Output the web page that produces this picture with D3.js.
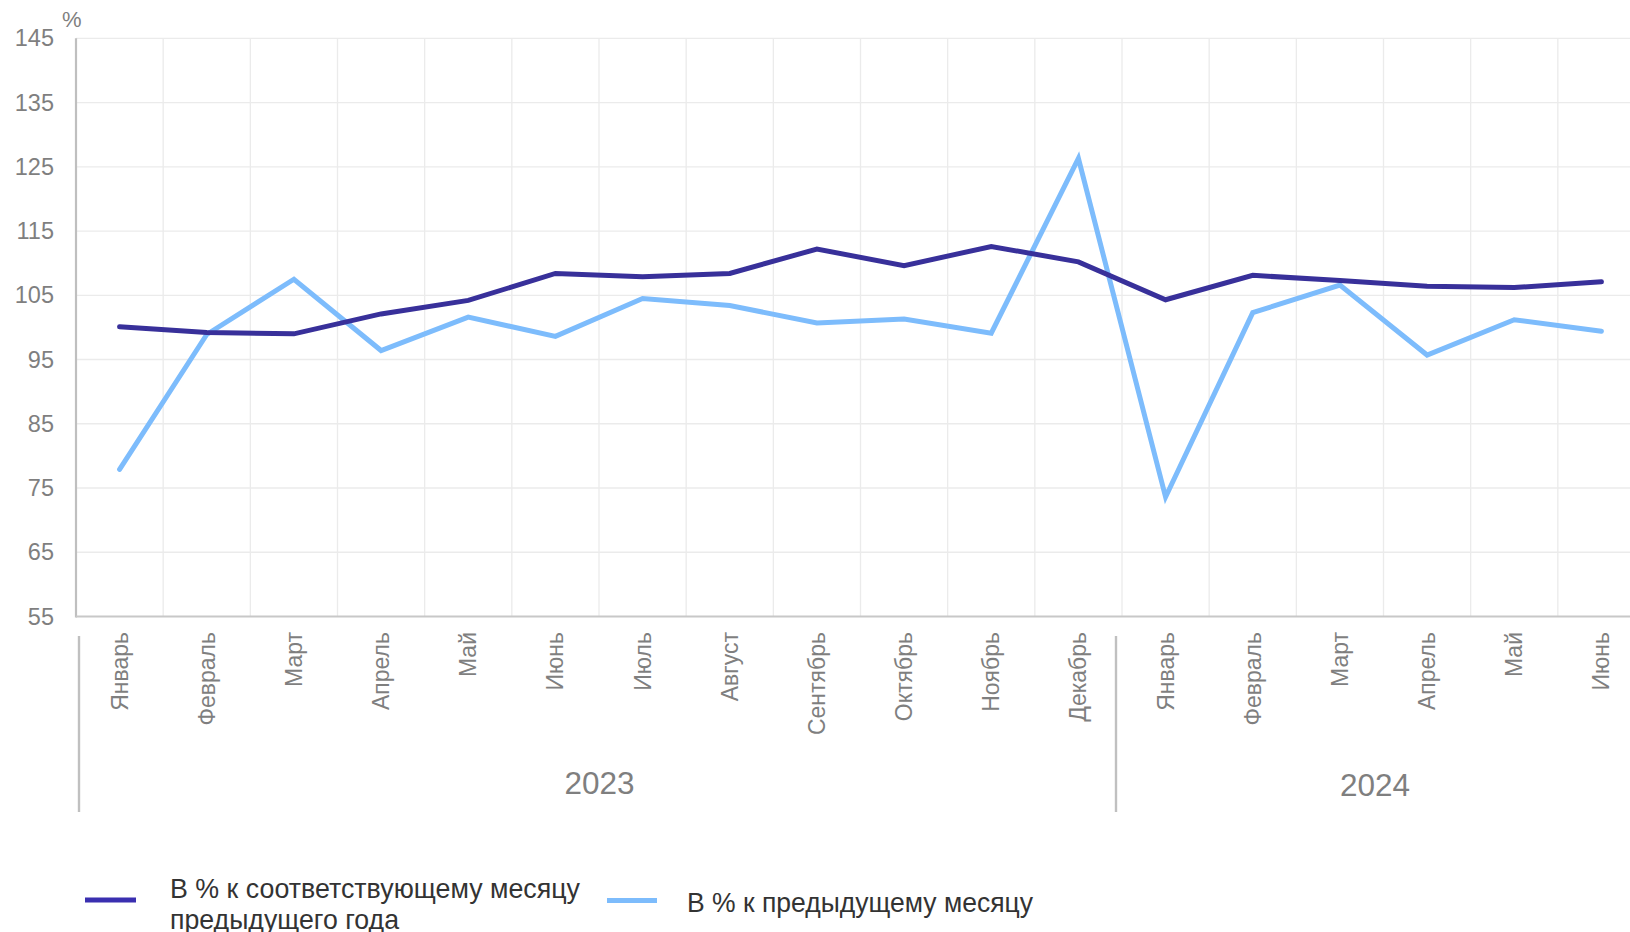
<!DOCTYPE html>
<html>
<head>
<meta charset="utf-8">
<script src="https://cdn.jsdelivr.net/npm/d3@7"></script>
<style>
  html, body { margin: 0; padding: 0; background: #fff; }
  svg { display: block; }
</style>
</head>
<body>
<svg id="chart" width="1630" height="932"></svg>
<script>
const months = ["Январь","Февраль","Март","Апрель","Май","Июнь","Июль","Август","Сентябрь","Октябрь","Ноябрь","Декабрь","Январь","Февраль","Март","Апрель","Май","Июнь"];
const years = ["2023", "2024"];
const yearMonthCounts = [12, 6];
const yoyValues = [100.1, 99.2, 99.0, 102.1, 104.2, 108.4, 107.9, 108.4, 112.2, 109.6, 112.6, 110.2, 104.3, 108.1, 107.3, 106.4, 106.2, 107.1];
const momValues = [77.9, 98.9, 107.5, 96.4, 101.6, 98.6, 104.5, 103.4, 100.7, 101.3, 99.1, 126.3, 73.6, 102.3, 106.6, 95.7, 101.2, 99.4];
const yTicks = [55, 65, 75, 85, 95, 105, 115, 125, 135, 145];
const seriesNames = ["В % к соответствующему месяцу\nпредыдущего года", "В % к предыдущему месяцу"];

(function () {
const W = 1630, H = 932;
const mLeft = 76, mRight = 1645, mTop = 38.3, mBottom = 616.5;
const darkColor = "#38309a", lightColor = "#7dbcfc";
const grayText = "#7f7f7f";
const font = "'Liberation Sans', Arial, sans-serif";

const svg = d3.select("#chart");
const idx = d3.range(months.length);
const x = d3.scaleBand().domain(idx).range([mLeft, mRight]).paddingInner(0).paddingOuter(0);
const y = d3.scaleLinear().domain([55, 145]).range([mBottom, mTop]);
const cx = i => x(i) + x.bandwidth() / 2;

// grid
const grid = svg.append("g");
grid.selectAll("line.h").data(yTicks.slice(1)).join("line")
  .attr("x1", mLeft).attr("x2", W).attr("y1", d => y(d)).attr("y2", d => y(d))
  .attr("stroke", "#ebebeb").attr("stroke-width", 1.3);
grid.selectAll("line.v").data(idx.slice(1)).join("line")
  .attr("x1", d => x(d)).attr("x2", d => x(d)).attr("y1", mTop).attr("y2", mBottom)
  .attr("stroke", "#ebebeb").attr("stroke-width", 1.3);

// y axis
const yAxis = svg.append("g").attr("transform", `translate(${mLeft},0)`)
  .call(d3.axisLeft(y).tickValues(yTicks).tickSize(0).tickPadding(22));
yAxis.select(".domain").remove();
yAxis.selectAll("text").attr("font-family", font).attr("font-size", 23.5).attr("fill", grayText);

svg.append("line").attr("x1", mLeft).attr("x2", mLeft).attr("y1", mTop).attr("y2", mBottom + 1)
  .attr("stroke", "#bfbfbf").attr("stroke-width", 2.2);
svg.append("line").attr("x1", mLeft).attr("x2", W).attr("y1", mBottom).attr("y2", mBottom)
  .attr("stroke", "#c8c8c8").attr("stroke-width", 2.2);

svg.append("text").attr("x", 62).attr("y", 27).text("%")
  .attr("font-family", font).attr("font-size", 22).attr("fill", grayText);

// x axis
const xAxis = svg.append("g").attr("transform", `translate(0,${mBottom})`)
  .call(d3.axisBottom(x).tickFormat(i => months[i]).tickSize(0).tickPadding(0));
xAxis.select(".domain").remove();
xAxis.selectAll("text")
  .attr("font-family", font).attr("font-size", 23).attr("fill", grayText)
  .attr("text-anchor", "end")
  .attr("transform", "rotate(-90)")
  .attr("x", -15.5).attr("y", 0).attr("dy", "0.35em");

// year separators & labels
let start = 0;
const sepX = [];
yearMonthCounts.forEach((n, k) => { sepX.push(k === 0 ? x(start) + 3 : x(start) - 6); start += n; });
svg.selectAll("line.sep").data(sepX).join("line")
  .attr("x1", d => d).attr("x2", d => d).attr("y1", 636).attr("y2", 812)
  .attr("stroke", "#c0c0c0").attr("stroke-width", 2.4);
const yearCenters = sepX.map((s, k) => (s + (k + 1 < sepX.length ? sepX[k + 1] : W)) / 2);
svg.selectAll("text.year").data(years).join("text")
  .attr("x", (d, k) => yearCenters[k] + 2).attr("y", (d, k) => 794 + k * 2)
  .attr("text-anchor", "middle").text(d => d)
  .attr("font-family", font).attr("font-size", 31.5).attr("fill", grayText);

// lines
const line = d3.line().x((d, i) => cx(i)).y(d => y(d));
svg.append("path").datum(momValues).attr("d", line)
  .attr("fill", "none").attr("stroke", lightColor).attr("stroke-width", 5)
  .attr("stroke-linejoin", "miter").attr("stroke-linecap", "round");
svg.append("path").datum(yoyValues).attr("d", line)
  .attr("fill", "none").attr("stroke", darkColor).attr("stroke-width", 5)
  .attr("stroke-linejoin", "miter").attr("stroke-linecap", "round");

// legend
const leg = [
  { color: "#3a2fb0", x1: 85, x2: 136, ly: 900, tx: 170, ty: 898, name: seriesNames[0], widths: [410, 229] },
  { color: lightColor, x1: 607, x2: 657, ly: 900.5, tx: 687, ty: 912, name: seriesNames[1], widths: [346] }
];
leg.forEach(l => {
  svg.append("line").attr("x1", l.x1).attr("x2", l.x2).attr("y1", l.ly).attr("y2", l.ly)
    .attr("stroke", l.color).attr("stroke-width", 5);
  l.name.split("\n").forEach((s, k) => {
    svg.append("text").attr("x", l.tx).attr("y", l.ty + k * 30.5)
      .attr("font-family", font).attr("font-size", 28).attr("fill", "#333")
      .attr("textLength", l.widths[k]).attr("lengthAdjust", "spacingAndGlyphs")
      .text(s);
  });
});
})();
</script>
</body>
</html>
